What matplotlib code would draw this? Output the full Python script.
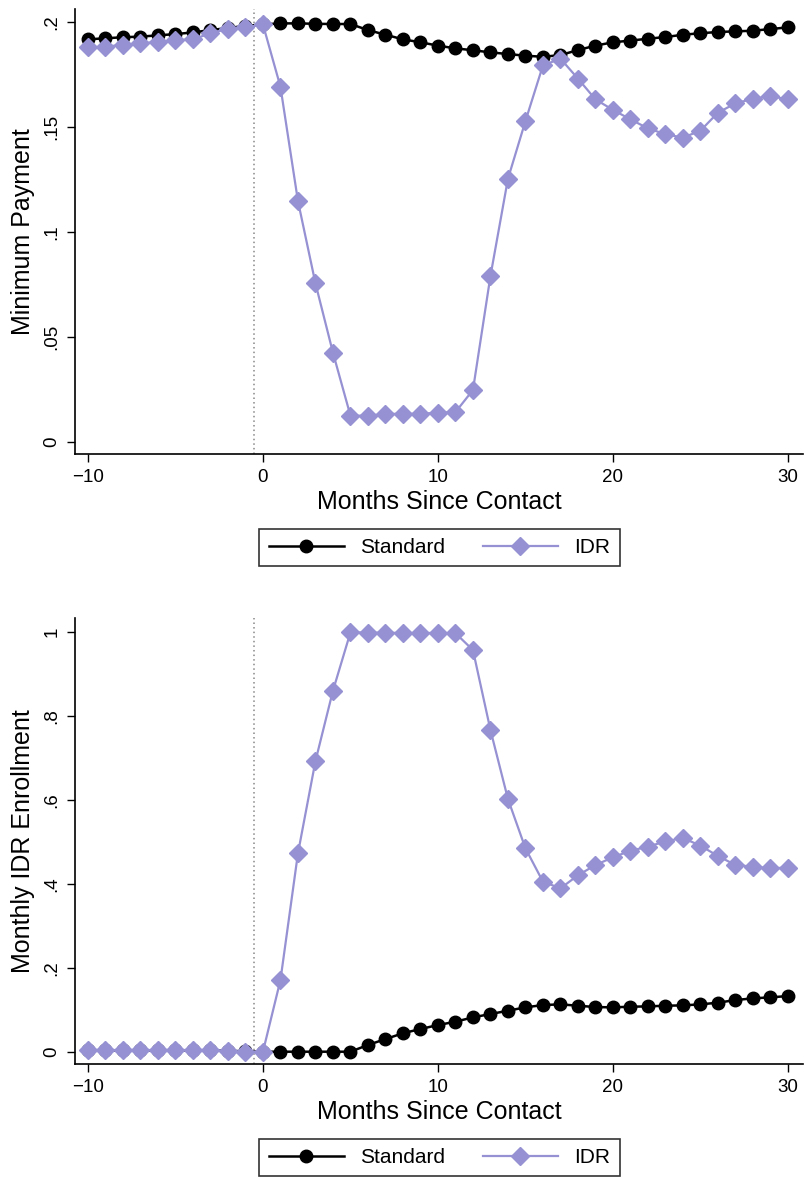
import matplotlib
matplotlib.use("Agg")
import matplotlib.pyplot as plt
from matplotlib.lines import Line2D

months = list(range(-10, 31))

# Top panel: Minimum Payment
std_payment = [0.1916, 0.1921, 0.1926, 0.1929, 0.1935, 0.1941, 0.1949, 0.1960, 0.1970, 0.1980,
               0.1987, 0.1992, 0.1992, 0.1990, 0.1989, 0.1989, 0.1960, 0.1938, 0.1916, 0.1902,
               0.1886, 0.1873, 0.1864, 0.1854, 0.1846, 0.1838, 0.1833, 0.1841, 0.1865, 0.1886,
               0.1902, 0.1910, 0.1919, 0.1927, 0.1938, 0.1945, 0.1951, 0.1954, 0.1957, 0.1965,
               0.1973]
idr_payment = [0.1878, 0.1881, 0.1890, 0.1897, 0.1903, 0.1911, 0.1917, 0.1944, 0.1967, 0.1973,
               0.1987, 0.1690, 0.1146, 0.0754, 0.0424, 0.0124, 0.0124, 0.0132, 0.0133, 0.0133,
               0.0138, 0.0141, 0.0246, 0.0789, 0.1252, 0.1527, 0.1792, 0.1824, 0.1729, 0.1630,
               0.1580, 0.1535, 0.1492, 0.1464, 0.1448, 0.1481, 0.1567, 0.1611, 0.1633, 0.1646,
               0.1630]

# Bottom panel: Monthly IDR Enrollment
std_enroll = [0.003, 0.003, 0.003, 0.003, 0.003, 0.003, 0.003, 0.003, 0.002, 0.001,
              0.000, 0.000, 0.000, 0.000, 0.000, 0.000, 0.016, 0.030, 0.044, 0.054,
              0.0635, 0.0714, 0.0818, 0.0897, 0.0976, 0.1056, 0.1111, 0.1127, 0.1095, 0.1063,
              0.1056, 0.1071, 0.1079, 0.1095, 0.1103, 0.1127, 0.1167, 0.1230, 0.1270, 0.1294,
              0.1325]
idr_enroll = [0.004, 0.004, 0.004, 0.004, 0.004, 0.004, 0.004, 0.004, 0.001, 0.000,
              0.000, 0.1706, 0.4723, 0.6920, 0.8595, 0.9984, 0.9980, 0.9975, 0.9970, 0.9970,
              0.9970, 0.9965, 0.9563, 0.7659, 0.6016, 0.4842, 0.4048, 0.3890, 0.4200, 0.4445,
              0.4628, 0.4786, 0.4881, 0.5009, 0.5088, 0.4905, 0.4659, 0.4445, 0.4405, 0.4366,
              0.4385]

x_ticks = [-10, 0, 10, 20, 30]
x_ticklabels = ["\u221210", "0", "10", "20", "30"]
top_yticks = [0, 0.05, 0.1, 0.15, 0.2]
top_yticklabels = ["0", ".05", ".1", ".15", ".2"]
bot_yticks = [0, 0.2, 0.4, 0.6, 0.8, 1.0]
bot_yticklabels = ["0", ".2", ".4", ".6", ".8", "1"]
series_names = ["Standard", "IDR"]
xlabel = "Months Since Contact"
top_ylabel = "Minimum Payment"
bot_ylabel = "Monthly IDR Enrollment"

plt.rcParams['font.family'] = ['Liberation Sans', 'DejaVu Sans']

W, H = 805, 1178
fig = plt.figure(figsize=(W / 100, H / 100), dpi=100)

PURPLE = '#9691d2'
BLACK = 'black'


def fx(px):
    return px / W


def fy(py):
    return 1 - py / H


def make_panel(top_px, bottom_px, ylim, yticks, yticklabels, ylabel, s_std, s_idr):
    ax = fig.add_axes([fx(75), fy(bottom_px), fx(803) - fx(75), fy(top_px) - fy(bottom_px)])
    ax.plot(months, s_std, color=BLACK, lw=1.8, marker='o', ms=9, mfc=BLACK, mec=BLACK, zorder=3)
    ax.plot(months, s_idr, color=PURPLE, lw=1.6, marker='D', ms=9.5, mfc=PURPLE, mec=PURPLE, zorder=4)
    ax.axvline(-0.5, color='#888888', lw=1.1, ls=(0, (1, 2)), zorder=1)
    ax.set_xlim(-10.74, 30.86)
    ax.set_ylim(*ylim)
    ax.set_xticks(x_ticks)
    ax.set_xticklabels(x_ticklabels)
    ax.set_yticks(yticks)
    ax.set_yticklabels(yticklabels, rotation=90, va='center')
    ax.tick_params(axis='both', direction='out', length=5.5, width=1.0, labelsize=13.5, pad=5, color='black')
    for sp in ['top', 'right']:
        ax.spines[sp].set_visible(False)
    for sp in ['left', 'bottom']:
        ax.spines[sp].set_linewidth(1.2)
    ax.set_xlabel(xlabel, fontsize=18, labelpad=3)
    ax.set_ylabel(ylabel, fontsize=18, labelpad=6)
    return ax


ax1 = make_panel(9, 454, ((441.7 - 454) / 2100, (441.7 - 9) / 2100), top_yticks, top_yticklabels,
                 top_ylabel, std_payment, idr_payment)
ax2 = make_panel(618, 1064, ((1051.7 - 1064) / 420, (1051.7 - 618) / 420), bot_yticks, bot_yticklabels,
                 bot_ylabel, std_enroll, idr_enroll)

handles = [
    Line2D([], [], color=BLACK, lw=1.8, marker='o', ms=9, mfc=BLACK, mec=BLACK),
    Line2D([], [], color=PURPLE, lw=1.6, marker='D', ms=9.5, mfc=PURPLE, mec=PURPLE),
]

for cy in (547.5, 1157.5):
    leg = fig.legend(handles, series_names, loc='center', bbox_to_anchor=(fx(439.5), fy(cy)),
                     ncol=2, frameon=True, fancybox=False, edgecolor='black', fontsize=15,
                     handlelength=3.6, columnspacing=1.8, handletextpad=0.8, borderpad=0.45,
                     borderaxespad=0)
    leg.get_frame().set_linewidth(1.2)

fig.savefig('out.png', dpi=100)
